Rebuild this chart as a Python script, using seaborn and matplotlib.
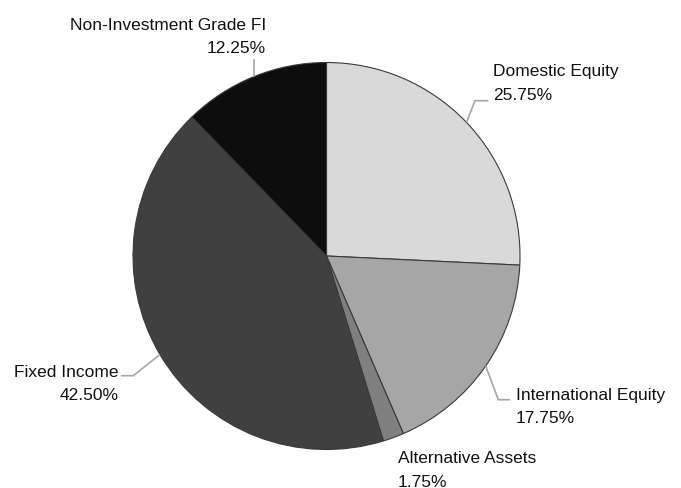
import numpy as np
import matplotlib
matplotlib.use("Agg")
import matplotlib.pyplot as plt
import seaborn as sns

# ---- data ----
categories = ["Domestic Equity", "International Equity", "Alternative Assets",
              "Fixed Income", "Non-Investment Grade FI"]
weights = [25.75, 17.75, 1.75, 42.50, 12.25]
pct_labels = ["25.75%", "17.75%", "1.75%", "42.50%", "12.25%"]
colors = ["#d9d9d9", "#a6a6a6", "#7f7f7f", "#404040", "#0d0d0d"]

sns.set_style("white")
plt.rcParams["font.family"] = ["Liberation Sans", "DejaVu Sans"]

W, H = 681, 489
fig = plt.figure(figsize=(W / 100, H / 100), dpi=100)
ax = fig.add_axes([0, 0, 1, 1])
ax.set_xlim(0, W)
ax.set_ylim(0, H)
ax.axis("off")

cx, cy, R = 326.5, H - 257.0, 193.5
wedges, _ = ax.pie(weights, colors=colors, startangle=90, counterclock=False,
                   center=(cx, cy), radius=R, frame=True,
                   wedgeprops=dict(edgecolor="#3a3a3a", linewidth=0.8))
ax.set_xlim(0, W)
ax.set_ylim(0, H)
ax.axis("off")

fs = 12.5
lc = "#a6a6a6"

def anchor(w):
    a = np.deg2rad((w.theta1 + w.theta2) / 2)
    return cx + R * np.cos(a), cy + R * np.sin(a)

def py(y):
    return H - y

# label layout: (text x, align, baseline1, baseline2, leader path after anchor)
layout = {
    0: dict(x=493, ha="left", b1=76, b2=100, path=[(475, 101.7), (488.3, 101.7)]),
    1: dict(x=516, ha="left", b1=400, b2=423.5, path=[(498.3, 400.7), (510, 400.7)]),
    2: dict(x=397.5, ha="left", b1=463.3, b2=487, path=None),
    3: dict(x=118.5, ha="right", b1=376.7, b2=400, path=[(133.3, 376.7), (121, 376.7)]),
    4: dict(x=266, ha="right", b1=30, b2=53.3, path=[(None, 60)]),
}

for i, w in enumerate(wedges):
    L = layout[i]
    ax.text(L["x"], py(L["b1"]), categories[i], ha=L["ha"], va="baseline",
            fontsize=fs, color="#111111")
    ax.text(L["x"], py(L["b2"]), pct_labels[i], ha=L["ha"], va="baseline",
            fontsize=fs, color="#111111")
    if L["path"]:
        ax0, ay0 = anchor(w)
        xs, ys = [ax0], [ay0]
        for (px, pyy) in L["path"]:
            xs.append(ax0 if px is None else px)
            ys.append(py(pyy))
        ax.plot(xs, ys, color=lc, lw=1.2, solid_capstyle="butt")

fig.savefig("out.png", dpi=100, facecolor="white")
